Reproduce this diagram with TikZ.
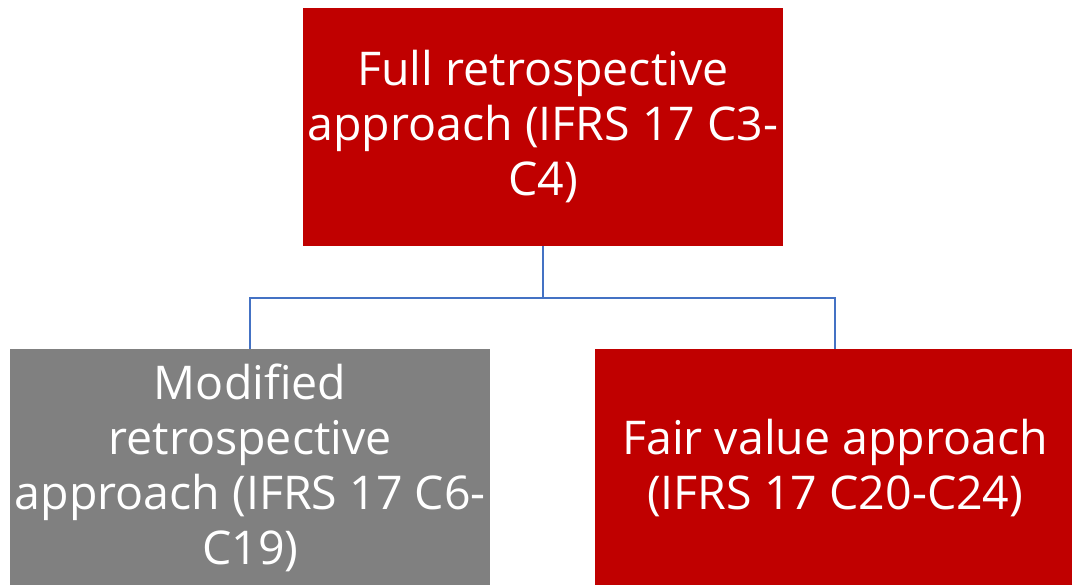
\documentclass[tikz,border=0pt]{standalone}
\usepackage{fontspec}
\setmainfont{Open Sans}
\usepackage{tikz}
\definecolor{fullred}{HTML}{C00000}
\definecolor{modgrey}{HTML}{808080}
\definecolor{linkblue}{HTML}{4472C4}

\begin{document}
\begin{tikzpicture}[x=1pt,y=-1pt,
  box/.style={minimum width=480pt, minimum height=238pt, inner sep=0pt,
    align=center, text=white, font=\fontsize{46.5}{55}\selectfont},
  link/.style={draw=linkblue, line width=1.5pt}]
  \useasboundingbox (0,0) rectangle (1072,585);
  \node[box, fill=fullred] (full) at (543,127) {Full retrospective\\approach (IFRS 17 C3-\\C4)};
  \node[box, fill=modgrey, anchor=north west] (mod) at (10,349) {Modified\\retrospective\\approach (IFRS 17 C6-\\C19)};
  \node[box, fill=fullred, anchor=north west] (fair) at (595,349) {Fair value approach\\(IFRS 17 C20-C24)};

  \draw[link] (full.south) -- ++(0,52) -| (mod.north);
  \draw[link] (full.south) -- ++(0,52) -| (fair.north);
\end{tikzpicture}
\end{document}
